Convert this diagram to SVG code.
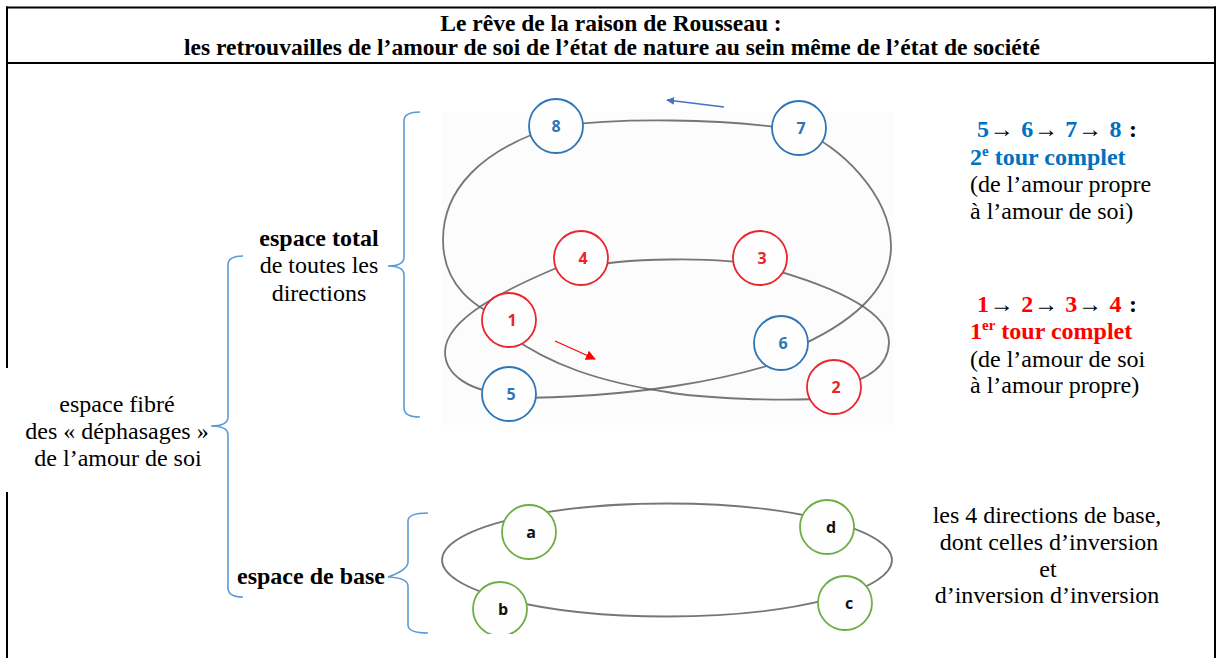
<svg xmlns="http://www.w3.org/2000/svg" width="1222" height="658" viewBox="0 0 1222 658">
<style>
.frame{stroke:#000;stroke-width:2;fill:none}
.title{font-family:"Liberation Serif","Times New Roman",serif;font-weight:bold;font-size:23.5px;text-anchor:middle;fill:#000}
.t{font-family:"Liberation Serif","Times New Roman",serif;font-size:24px;fill:#000}
.b{font-weight:bold}
.mid{text-anchor:middle}
.blue{fill:#0070c0}
.red{fill:#ff0000}
.curve{fill:none;stroke:#5e5e5e;stroke-width:1.8;stroke-linecap:round;opacity:0.85}
.brace{fill:none;stroke:#5b9bd5;stroke-width:1.6}
.cb{fill:#fefefe;stroke:#2e75b6;stroke-width:1.8}
.cr{fill:#fefefe;stroke:#e8262b;stroke-width:1.8}
.cg{fill:#fefefe;stroke:#70ad47;stroke-width:1.8}
.lbl{font-family:"Open Sans","Liberation Sans",Arial,sans-serif;font-weight:bold;font-size:16px;text-anchor:middle}
.lb{fill:#2e75b6}
.lr{fill:#e8262b}
.lk{fill:#111}
</style>
<defs>
<marker id="ahB" viewBox="0 0 10 10" refX="9" refY="5" markerWidth="8" markerHeight="8" orient="auto" markerUnits="userSpaceOnUse"><path d="M0,0 L10,5 L0,10 z" fill="#4472c4"/></marker>
<marker id="ahR" viewBox="0 0 10 10" refX="9" refY="5" markerWidth="10" markerHeight="10" orient="auto" markerUnits="userSpaceOnUse"><path d="M0,0 L10,5 L0,10 z" fill="#ff0000"/></marker>
<clipPath id="clipBase"><rect x="430" y="495" width="480" height="139"/></clipPath>
</defs>

<rect width="1222" height="658" fill="#ffffff"/>

<g id="frame">
<line class="frame" x1="6" y1="7.5" x2="1216" y2="7.5"/>
<line class="frame" x1="6" y1="63" x2="1216" y2="63"/>
<line class="frame" x1="7" y1="6.5" x2="7" y2="368"/>
<line class="frame" x1="7" y1="492" x2="7" y2="658"/>
<line class="frame" x1="1215" y1="6.5" x2="1215" y2="658"/>
</g>

<g id="title">
<text class="title" x="611" y="31">Le rêve de la raison de Rousseau :</text>
<text class="title" x="612" y="55">les retrouvailles de l’amour de soi de l’état de nature au sein même de l’état de société</text>
</g>

<g id="photo-bg">
<rect x="442" y="112" width="451" height="313" fill="#fcfcfc"/>
</g>

<g id="connectors">
<path class="curve" d="M556,126 C620,118 720,118 799,130"/>
<path class="curve" d="M799,130 C840,145 890,195 891,245 C892,290 850,325 790,350"/>
<path class="curve" d="M780,362 C730,378 640,398 509,398"/>
<path class="curve" d="M509,394 C470,392 445,375 445,352 C445,320 500,290 581,258"/>
<path class="curve" d="M581,268 C620,258 720,256 760,266"/>
<path class="curve" d="M760,266 C830,285 890,310 889,343 C888,365 870,380 834,387"/>
<path class="curve" d="M834,398 C780,402 700,398 667,392 C600,382 550,365 509,335"/>
<path class="curve" d="M509,320 C475,310 443,285 443,240 C443,190 480,150 556,126"/>
<line x1="724" y1="107" x2="667" y2="100" stroke="#4472c4" stroke-width="1.3" marker-end="url(#ahB)"/>
<line x1="555" y1="341" x2="595" y2="359" stroke="#ff0000" stroke-width="1.3" marker-end="url(#ahR)"/>
<g clip-path="url(#clipBase)">
<ellipse class="curve" cx="667" cy="560" rx="225" ry="56.5"/>
</g>
</g>

<g id="n8"><circle class="cb" cx="556" cy="126" r="27"/><text class="lbl lb" x="556" y="132">8</text></g>
<g id="n7"><circle class="cb" cx="799" cy="128" r="27"/><text class="lbl lb" x="801" y="134">7</text></g>
<g id="n6"><circle class="cb" cx="781" cy="343" r="27"/><text class="lbl lb" x="783" y="349">6</text></g>
<g id="n5"><circle class="cb" cx="509" cy="394" r="27"/><text class="lbl lb" x="511" y="400">5</text></g>
<g id="n4"><circle class="cr" cx="581" cy="258" r="27"/><text class="lbl lr" x="583" y="264">4</text></g>
<g id="n3"><circle class="cr" cx="760" cy="258" r="27"/><text class="lbl lr" x="762" y="264">3</text></g>
<g id="n1"><circle class="cr" cx="509" cy="320" r="27"/><text class="lbl lr" x="512" y="326">1</text></g>
<g id="n2"><circle class="cr" cx="834" cy="387" r="27"/><text class="lbl lr" x="836" y="393">2</text></g>

<g clip-path="url(#clipBase)">
<g id="na"><circle class="cg" cx="529" cy="532" r="27"/><text class="lbl lk" x="531" y="538">a</text></g>
<g id="nd"><circle class="cg" cx="827" cy="527" r="27"/><text class="lbl lk" x="831" y="533">d</text></g>
<g id="nb"><circle class="cg" cx="500" cy="609" r="27"/><text class="lbl lk" x="503" y="615">b</text></g>
<g id="nc"><circle class="cg" cx="845" cy="603" r="27"/><text class="lbl lk" x="849" y="609">c</text></g>
</g>

<g id="braces">
<path class="brace" d="M420,112 Q404,112 404,121 L404,257 Q404,266 388,266 Q404,266 404,275 L404,408 Q404,417 420,417"/>
<path class="brace" d="M243,256 Q228,256 228,265 L228,417 Q228,426 211,426 Q228,426 228,435 L228,588 Q228,597 243,597"/>
<path class="brace" d="M428,513 Q408,513 408,521 L408,562 Q408,570 388,577 Q408,578 408,586 L408,625 Q408,633 428,633"/>
</g>

<g id="label-total">
<text class="t b mid" x="319" y="246">espace total</text>
<text class="t mid" x="319" y="273">de toutes les</text>
<text class="t mid" x="319" y="301">directions</text>
</g>

<g id="label-fibre">
<text class="t mid" x="117" y="412">espace fibré</text>
<text class="t mid" x="117" y="439">des « déphasages »</text>
<text class="t mid" x="118" y="466">de l’amour de soi</text>
</g>

<g id="label-base">
<text class="t b mid" x="311" y="584">espace de base</text>
</g>

<g id="label-tour2">
<text class="t b" x="977" y="137" textLength="160"><tspan class="blue">5</tspan>→ <tspan class="blue">6</tspan>→ <tspan class="blue">7</tspan>→ <tspan class="blue">8</tspan> :</text>
<text class="t b blue" x="970" y="165">2<tspan font-size="15" dy="-9">e</tspan><tspan dy="9"> tour complet</tspan></text>
<text class="t" x="970" y="192">(de l’amour propre</text>
<text class="t" x="970" y="219">à l’amour de soi)</text>
</g>

<g id="label-tour1">
<text class="t b" x="977" y="312" textLength="160"><tspan class="red">1</tspan>→ <tspan class="red">2</tspan>→ <tspan class="red">3</tspan>→ <tspan class="red">4</tspan> :</text>
<text class="t b red" x="970" y="339">1<tspan font-size="15" dy="-9">er</tspan><tspan dy="9"> tour complet</tspan></text>
<text class="t" x="970" y="367">(de l’amour de soi</text>
<text class="t" x="970" y="393">à l’amour propre)</text>
</g>

<g id="label-directions">
<text class="t mid" x="1047" y="523">les 4 directions de base,</text>
<text class="t mid" x="1049" y="550">dont celles d’inversion</text>
<text class="t mid" x="1048" y="577">et</text>
<text class="t mid" x="1047" y="603">d’inversion d’inversion</text>
</g>
</svg>
